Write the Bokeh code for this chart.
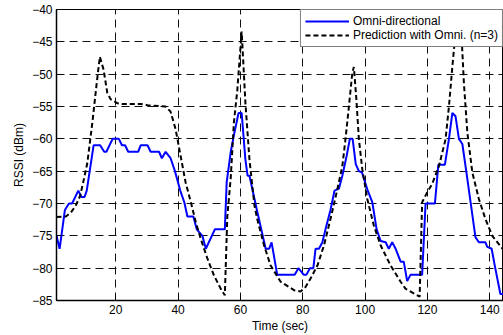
from bokeh.plotting import figure
from bokeh.models import Range1d, FixedTicker
from bokeh.embed import file_html
from bokeh.resources import INLINE

# Measured RSSI (Omni-directional antenna)
omni_t = [1, 2, 3.7, 5, 6, 8, 9, 10, 10.7, 12.9, 15, 16.3, 17, 19, 21, 22, 23, 24,
          27.2, 28, 30.2, 31.2, 33.9, 34.8, 36, 37.6, 39, 40.7, 42, 43, 44.9, 46,
          47.8, 48.9, 51.8, 55, 55.6, 56.9, 58.1, 59.4, 60.4, 61.6, 62.3, 62.9,
          65.2, 68.1, 69.2, 70, 71.8, 77.4, 78.6, 80.3, 81.2, 82.3, 83.4, 84.1,
          85.2, 86.3, 87.3, 88.9, 90.2, 91.6, 92.7, 94.1, 95.1, 96, 97, 98, 99,
          100.7, 102.3, 103.7, 105, 106.6, 107.6, 108.7, 109.8, 111.4, 112.4,
          113.5, 114.6, 118.3, 119.4, 122.4, 123.5, 125.6, 126.9, 128, 129,
          130.1, 131.2, 132.8, 135.4, 136.5, 138.6, 139.2, 140.6, 141.6, 143.4,
          144.4]
omni_rssi = [-75, -77, -71, -70, -70, -68, -69, -69, -68, -61, -61, -62, -62, -60,
             -60, -61, -61, -62, -62, -61, -61, -62, -62, -63, -62, -63, -65, -68,
             -69.8, -72, -72, -74, -75, -77, -74, -74, -66.7, -62, -59, -56, -56,
             -63.2, -65.7, -65.7, -70.8, -77, -77, -76, -81, -81, -80, -81, -81,
             -80, -80, -77, -77, -76, -74, -71, -68, -67.7, -65.7, -62.6, -60, -60,
             -63.9, -65, -65.2, -67.8, -69.8, -74, -75.8, -76, -77, -76, -77, -79,
             -79, -82, -81, -81, -70, -70, -64, -64, -60, -56, -56.5, -60, -60.8,
             -66.2, -75.2, -76, -76, -76.7, -77, -79.6, -84, -84]

# Prediction with Omni. (n=3)
pred_t = [1, 4, 5.6, 7.2, 8.6, 9.8, 10.9, 12.5, 13.9, 14.9, 16.1, 17.3, 18.4, 20.6,
          22, 28, 30.2, 36, 37.6, 39.2, 40.8, 42.4, 44.1, 45.7, 47.3, 49.4, 51.5,
          53.7, 55, 55.8, 56.9, 57.9, 59, 60.4, 61.6, 62.9, 64.5, 65.4, 67.6, 69.7,
          72.9, 77.2, 79.3, 80.9, 82.5, 84.7, 86.8, 88.9, 91.1, 92.7, 93.7, 94.8,
          95.9, 96.4, 97.2, 98, 99.1, 100.7, 102.8, 105, 108.2, 111.4, 113, 117.5,
          118.3, 119.9, 121.5, 123.7, 125.8, 126.9, 128, 129.5, 130.9, 131.7,
          132.8, 134.4, 136.5, 138.6, 140.8, 144.4]
pred_rssi = [-72.1, -72, -71.4, -70.3, -68.8, -66.2, -63.7, -57.5, -51.4, -47.3,
             -49.3, -52.9, -53.9, -54.5, -54.6, -54.6, -54.8, -55, -55.8, -58.5,
             -62.6, -66.7, -69.8, -72.9, -75.5, -78.5, -81.1, -83.2, -84.2, -72,
             -66, -57.5, -52.5, -43.4, -54.4, -63.2, -70.3, -72.4, -76.5, -79.6,
             -82.1, -83.4, -83.6, -82.9, -81.6, -79.6, -76.5, -72.4, -67.8, -64.2,
             -60.1, -55, -49.8, -48.9, -53.9, -60, -64.7, -69.3, -73.4, -76.5,
             -79.6, -82.1, -83.2, -84.4, -69.8, -68.3, -67, -64.2, -60.1, -55,
             -48.8, -41, -43.7, -51.4, -59, -65.2, -69.3, -72.4, -75, -77.2]

x_ticks = [20, 40, 60, 80, 100, 120, 140]
y_ticks = [-85, -80, -75, -70, -65, -60, -55, -50, -45, -40]

FONT = "Liberation Sans"

p = figure(width=503, height=335, x_range=Range1d(1, 144.4), y_range=Range1d(-85, -40),
           output_backend="svg", toolbar_location=None,
           min_border_left=56, min_border_right=0, min_border_top=9, min_border_bottom=33,
           background_fill_color="white", border_fill_color="white")

p.line(omni_t, omni_rssi, line_color="#0000ff", line_width=2, legend_label="Omni-directional")
p.line(pred_t, pred_rssi, line_color="black", line_width=2, line_dash="5 3",
       legend_label="Prediction with Omni. (n=3)")

p.xaxis.ticker = FixedTicker(ticks=x_ticks)
p.yaxis.ticker = FixedTicker(ticks=y_ticks)
p.xaxis.minor_tick_line_color = None
p.yaxis.minor_tick_line_color = None

for ax in (p.xaxis, p.yaxis):
    ax.major_tick_in = 5
    ax.major_tick_out = 0
    ax.axis_line_width = 1.5
    ax.axis_line_color = "black"
    ax.major_tick_line_color = "black"
    ax.major_label_text_font = FONT
    ax.major_label_text_font_size = "12px"
    ax.major_label_text_color = "black"
    ax.axis_label_text_font = FONT
    ax.axis_label_text_font_size = "12px"
    ax.axis_label_text_font_style = "normal"
    ax.axis_label_text_color = "black"

p.xaxis.axis_label = "Time (sec)"
p.yaxis.axis_label = "RSSI (dBm)"
p.xaxis.major_label_standoff = 4
p.xaxis.axis_label_standoff = 2
p.yaxis.major_label_standoff = 4
p.yaxis.axis_label_standoff = 3

p.xgrid.ticker = FixedTicker(ticks=x_ticks)
p.ygrid.ticker = FixedTicker(ticks=y_ticks)
for g in (p.xgrid, p.ygrid):
    g.grid_line_color = "#111111"
    g.grid_line_dash = "8 5"
    g.grid_line_width = 1

p.outline_line_color = "black"
p.outline_line_width = 1

lg = p.legend[0]
lg.location = "top_right"
lg.margin = 0
lg.padding = 4
lg.spacing = 0
lg.label_height = 14
lg.glyph_height = 14
lg.glyph_width = 44
lg.label_standoff = 4
lg.label_text_font = FONT
lg.label_text_font_size = "12px"
lg.label_text_color = "black"
lg.border_line_color = "black"
lg.border_line_width = 1
lg.background_fill_color = "white"
lg.background_fill_alpha = 1.0

open("out.html", "w").write(file_html(p, INLINE))
